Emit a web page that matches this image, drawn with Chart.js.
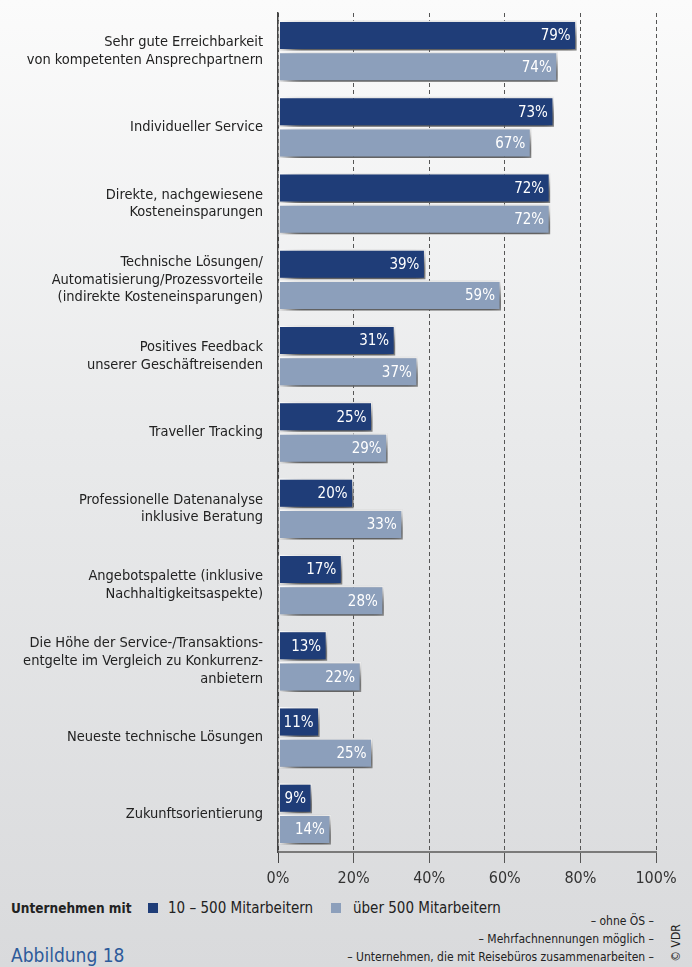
<!DOCTYPE html>
<html>
<head>
<meta charset="utf-8">
<script src="https://cdn.jsdelivr.net/npm/chart.js@4"></script>
<style>
  html,body{margin:0;padding:0;}
  body{width:692px;height:967px;position:relative;overflow:hidden;
    background:linear-gradient(to bottom,#fbfbfb 0%,#e9eaeb 45%,#d9dadc 100%);
    font-family:"DejaVu Sans Condensed","Liberation Sans Narrow",sans-serif;color:#222;}
  .wrap{position:absolute;left:0;top:0;width:692px;height:896px;}
  .lg{position:absolute;top:899px;font-size:15px;white-space:nowrap;line-height:18px;}
  .sq{position:absolute;top:903px;width:10px;height:10px;}
  .notes{position:absolute;right:38px;top:912px;font-size:12px;text-align:right;line-height:18px;white-space:nowrap;}
  .fig{position:absolute;left:11px;top:944px;font-size:19px;color:#2d5a9a;}
  .vdr{position:absolute;left:653px;top:936px;width:46px;font-size:12px;text-align:center;transform:rotate(-90deg);white-space:nowrap;}
</style>
</head>
<body>
<div class="wrap"><canvas class="chart"></canvas></div>
<div class="lg" style="left:11px;font-weight:bold;font-size:13.5px;">Unternehmen mit</div>
<span class="sq" style="left:148px;background:#1f3d78"></span>
<div class="lg" style="left:168px;">10 – 500 Mitarbeitern</div>
<span class="sq" style="left:331px;background:#8c9fbb"></span>
<div class="lg" style="left:353px;">über 500 Mitarbeitern</div>
<div class="notes">– ohne ÖS –<br>– Mehrfachnennungen möglich –<br>– Unternehmen, die mit Reisebüros zusammenarbeiten –</div>
<div class="fig">Abbildung 18</div>
<div class="vdr">© VDR</div>
<script>
const FONT = '"DejaVu Sans Condensed","Liberation Sans Narrow",sans-serif';

const categories = [
  ["Sehr gute Erreichbarkeit", "von kompetenten Ansprechpartnern"],
  "Individueller Service",
  ["Direkte, nachgewiesene", "Kosteneinsparungen"],
  ["Technische Lösungen/", "Automatisierung/Prozessvorteile", "(indirekte Kosteneinsparungen)"],
  ["Positives Feedback", "unserer Geschäftreisenden"],
  "Traveller Tracking",
  ["Professionelle Datenanalyse", "inklusive Beratung"],
  ["Angebotspalette (inklusive", "Nachhaltigkeitsaspekte)"],
  ["Die Höhe der Service-/Transaktions-", "entgelte im Vergleich zu Konkurrenz-", "anbietern"],
  "Neueste technische Lösungen",
  "Zukunftsorientierung"
];
const small = [79, 73, 72, 39, 31, 25, 20, 17, 13, 11, 9];
const large = [74, 67, 72, 59, 37, 29, 33, 28, 22, 25, 14];
const seriesNames = ["10 – 500 Mitarbeitern", "über 500 Mitarbeitern"];
const xTicks = [0, 20, 40, 60, 80, 100];

// blurred drop shadow under the bars, then the value labels
const shadowPlugin = {
  id: "shadow",
  beforeDatasetsDraw(chart) {
    const c = chart.ctx;
    c.save();
    c.shadowColor = "rgba(0,0,0,0.75)";
    c.shadowBlur = 16;
    c.shadowOffsetX = 7;
    c.shadowOffsetY = 8;
  },
  afterDatasetsDraw(chart) {
    const c = chart.ctx;
    c.restore();
    c.save();
    c.font = "15px " + FONT;
    c.fillStyle = "#fff";
    c.textAlign = "right";
    c.textBaseline = "middle";
    chart.data.datasets.forEach((ds, i) => {
      chart.getDatasetMeta(i).data.forEach((bar, j) => {
        c.fillText(ds.data[j] + "%", bar.x - 6, bar.y + 1);
      });
    });
    c.restore();
  }
};

const ctx = document.querySelector(".chart");
new Chart(ctx, {
  type: "bar",
  data: {
    labels: categories,
    datasets: [
      { label: seriesNames[0], data: small, backgroundColor: "#1f3d78" },
      { label: seriesNames[1], data: large, backgroundColor: "#8c9fbb" }
    ]
  },
  options: {
    indexAxis: "y",
    responsive: true,
    maintainAspectRatio: false,
    animation: false,
    events: [],
    layout: { padding: { top: 13, right: 36, left: 0, bottom: 0 } },
    datasets: {
      bar: {
        categoryPercentage: 0.82,
        barPercentage: 0.96,
        borderColor: "#ffffff",
        borderWidth: 1.5,
        borderSkipped: false
      }
    },
    plugins: { legend: { display: false }, tooltip: { enabled: false } },
    scales: {
      x: {
        min: 0, max: 100,
        afterBuildTicks: (s) => { s.ticks = xTicks.map(v => ({ value: v })); },
        afterFit: (s) => { s.height = 44; },
        grid: { color: (c) => c.tick && c.tick.value === 0 ? "#444" : "#555", lineWidth: 1, tickLength: 11 },
        border: { color: "#7a7a7a", width: 2, dash: [4, 3] },
        ticks: { color: "#333", padding: 6, font: { family: FONT, size: 16 },
          callback: (v) => v + "%" }
      },
      y: {
        afterFit: (s) => { s.width = 278; s.paddingTop = 0; s.paddingBottom = 0; },
        grid: { display: false, drawTicks: false },
        border: { color: "#444", width: 1.5 },
        ticks: { color: "#222", padding: 15, font: { family: FONT, size: 14.5, lineHeight: 1.22 } }
      }
    }
  },
  plugins: [shadowPlugin]
});
</script>
</body>
</html>
